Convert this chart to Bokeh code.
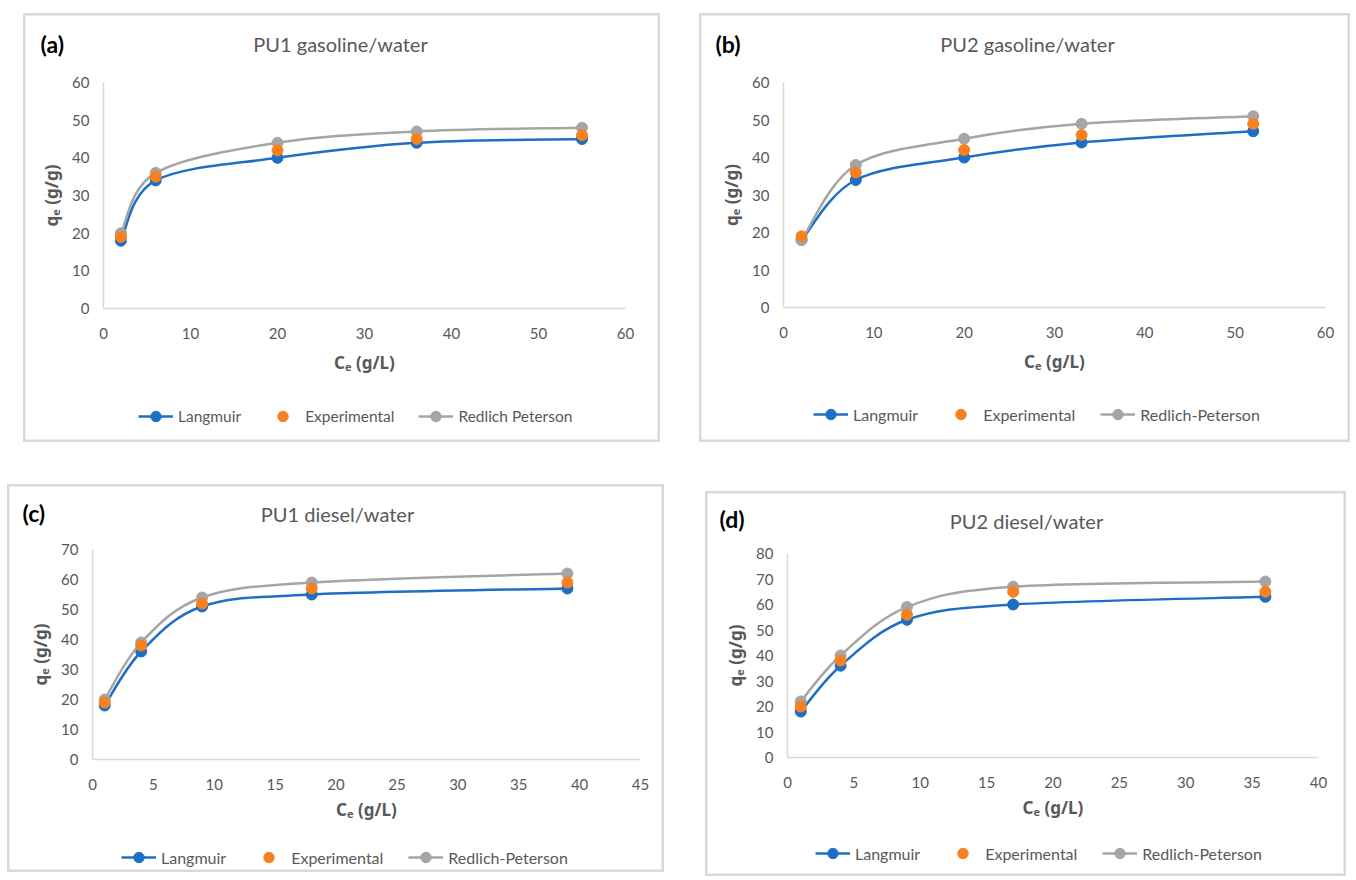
from bokeh.plotting import figure
from bokeh.models import (Range1d, FixedTicker, Label, Legend, LegendItem, Spacer,
                          ColumnDataSource)
from bokeh.layouts import row, column
from bokeh.embed import file_html
from bokeh.resources import INLINE

# ---------------- data ----------------
# (a) PU1 gasoline/water
a_ce = [2, 6, 20, 36, 55]
a_langmuir = [18, 34, 40, 44, 45]
a_experimental = [19, 35, 42, 45, 46]
a_redlich = [20, 36, 44, 47, 48]

# (b) PU2 gasoline/water
b_ce = [2, 8, 20, 33, 52]
b_langmuir = [18, 34, 40, 44, 47]
b_experimental = [19, 36, 42, 46, 49]
b_redlich = [18, 38, 45, 49, 51]

# (c) PU1 diesel/water
c_ce = [1, 4, 9, 18, 39]
c_langmuir = [18, 36, 51, 55, 57]
c_experimental = [19, 38, 52, 57, 59]
c_redlich = [20, 39, 54, 59, 62]

# (d) PU2 diesel/water
d_ce = [1, 4, 9, 17, 36]
d_langmuir = [18, 36, 54, 60, 63]
d_experimental = [20, 38, 56, 65, 65]
d_redlich = [22, 40, 59, 67, 69]

titles = ["PU1 gasoline/water", "PU2 gasoline/water", "PU1 diesel/water", "PU2 diesel/water"]
tags = ["(a)", "(b)", "(c)", "(d)"]
series_names = ["Langmuir", "Experimental", "Redlich-Peterson"]
series_names_a = ["Langmuir", "Experimental", "Redlich Peterson"]
x_label = "C\u2091 (g/L)"
y_label = "q\u2091 (g/g)"

BLUE = "#1E6FC4"
ORANGE = "#F7801F"
GRAY = "#A5A5A5"
TXT = "#595959"
FONT = "Lato"


def bezier_cds(x, y):
    """Smooth (Excel-like) curve: Bezier control points computed from the data points."""
    n = len(x)
    d = dict(x0=[], y0=[], x1=[], y1=[], cx0=[], cy0=[], cx1=[], cy1=[])
    for i in range(n - 1):
        im = max(i - 1, 0)
        ip = min(i + 2, n - 1)
        d["x0"].append(x[i]); d["y0"].append(y[i])
        d["x1"].append(x[i + 1]); d["y1"].append(y[i + 1])
        d["cx0"].append(x[i] + (x[i + 1] - x[im]) / 6.0)
        d["cy0"].append(y[i] + (y[i + 1] - y[im]) / 6.0)
        d["cx1"].append(x[i + 1] - (x[ip] - x[i]) / 6.0)
        d["cy1"].append(y[i + 1] - (y[ip] - y[i]) / 6.0)
    return ColumnDataSource(d)


def make_panel(cfg):
    w, h = cfg["w"], cfg["h"]
    L, R, T, B = cfg["box"]          # plot-area edges in the panel's pixels (from top-left)
    xmax, ymax = cfg["xmax"], cfg["ymax"]
    kx = (R - L) / xmax
    ky = (B - T) / ymax
    xr = Range1d(-L / kx, xmax + (w - R) / kx)
    yr = Range1d(-(h - B) / ky, ymax + T / ky)
    p = figure(width=w, height=h, output_backend="svg", toolbar_location=None,
               x_range=xr, y_range=yr,
               min_border_left=0, min_border_right=0, min_border_top=0, min_border_bottom=0,
               background_fill_color="white", border_fill_color="white",
               outline_line_color="#D9D9D9", outline_line_width=4)
    p.grid.visible = False
    p.xaxis.fixed_location = 0
    p.yaxis.fixed_location = 0
    p.xaxis.bounds = (0, xmax)
    p.yaxis.bounds = (0, ymax)
    p.xaxis.ticker = FixedTicker(ticks=list(range(0, xmax + 1, cfg["xstep"])))
    p.yaxis.ticker = FixedTicker(ticks=list(range(0, ymax + 1, 10)))
    for ax in (p.xaxis[0], p.yaxis[0]):
        ax.axis_line_color = "#D9D9D9"
        ax.axis_line_width = 1.5
        ax.major_tick_line_color = None
        ax.minor_tick_line_color = None
        ax.major_tick_out = 0
        ax.major_tick_in = 0
        ax.minor_tick_out = 0
        ax.major_label_text_font = FONT
        ax.major_label_text_font_size = "15px"
        ax.major_label_text_color = TXT
        ax.axis_label_text_font = "Noto Sans"
        ax.axis_label_text_font_size = "17px"
        ax.axis_label_text_font_style = "bold"
        ax.axis_label_text_color = TXT
    p.xaxis.axis_label = x_label
    p.yaxis.axis_label = y_label
    p.xaxis.major_label_standoff = 19
    p.xaxis.axis_label_standoff = cfg["xlab_gap"]
    p.yaxis.major_label_standoff = 14
    p.yaxis.axis_label_standoff = 6

    x = cfg["x"]
    # Langmuir
    bl = p.bezier(x0="x0", y0="y0", x1="x1", y1="y1", cx0="cx0", cy0="cy0", cx1="cx1", cy1="cy1",
                  source=bezier_cds(x, cfg["lang"]), line_color=BLUE, line_width=2.5)
    sl = p.scatter(x, cfg["lang"], size=11, fill_color=BLUE, line_color=BLUE)
    # Redlich-Peterson
    br = p.bezier(x0="x0", y0="y0", x1="x1", y1="y1", cx0="cx0", cy0="cy0", cx1="cx1", cy1="cy1",
                  source=bezier_cds(x, cfg["rp"]), line_color=GRAY, line_width=2.5)
    sr = p.scatter(x, cfg["rp"], size=11, fill_color=GRAY, line_color=GRAY)
    # Experimental
    se = p.scatter(x, cfg["exp"], size=11, fill_color=ORANGE, line_color=ORANGE)

    names = cfg["names"]
    legend = Legend(items=[LegendItem(label=names[0], renderers=[bl, sl]),
                           LegendItem(label=names[1], renderers=[se]),
                           LegendItem(label=names[2], renderers=[br, sr])],
                    orientation="horizontal", location=cfg["leg"],
                    border_line_color=None, background_fill_alpha=0,
                    label_text_font=FONT, label_text_font_size=cfg["leg_fs"],
                    label_text_color=TXT, glyph_width=35, glyph_height=26,
                    label_standoff=5, spacing=cfg["leg_sp"], padding=0, margin=0)
    p.add_layout(legend, "center")

    tx, ty = cfg["title_pos"]
    p.add_layout(Label(x=tx, y=ty, x_units="screen", y_units="screen", text=cfg["title"],
                       text_font=FONT, text_font_size="20px", text_color=TXT,
                       text_align="center", text_baseline="middle"))
    gx, gy = cfg["tag_pos"]
    p.add_layout(Label(x=gx, y=gy, x_units="screen", y_units="screen", text=cfg["tag"],
                       text_font=FONT, text_font_size="23px", text_font_style="bold",
                       text_color="black", text_align="left", text_baseline="middle"))
    return p


cfgs = [
    dict(w=637, h=429, box=(80, 602, 69, 295), xmax=60, xstep=10, ymax=60, xlab_gap=9,
         x=a_ce, lang=a_langmuir, exp=a_experimental, rp=a_redlich, names=series_names_a,
         title=titles[0], tag=tags[0], title_pos=(317, 399), tag_pos=(17, 399),
         leg=(115, 13), leg_fs="15.5px", leg_sp=24),
    dict(w=651, h=429, box=(84, 626, 69, 294), xmax=60, xstep=10, ymax=60, xlab_gap=9,
         x=b_ce, lang=b_langmuir, exp=b_experimental, rp=b_redlich, names=series_names,
         title=titles[1], tag=tags[1], title_pos=(328, 399), tag_pos=(16, 399),
         leg=(114, 15), leg_fs="16px", leg_sp=25),
    dict(w=657, h=388, box=(85, 633, 65, 275), xmax=45, xstep=5, ymax=70, xlab_gap=5,
         x=c_ce, lang=c_langmuir, exp=c_experimental, rp=c_redlich, names=series_names,
         title=titles[2], tag=tags[2], title_pos=(330, 359), tag_pos=(15, 360),
         leg=(114, 2), leg_fs="16px", leg_sp=25),
    dict(w=641, h=385, box=(82, 613, 62, 266), xmax=40, xstep=5, ymax=80, xlab_gap=5,
         x=d_ce, lang=d_langmuir, exp=d_experimental, rp=d_redlich, names=series_names,
         title=titles[3], tag=tags[3], title_pos=(321, 356), tag_pos=(14, 358),
         leg=(110, 10), leg_fs="16px", leg_sp=25),
]

pa, pb, pc, pd = [make_panel(c) for c in cfgs]

layout = column(
    Spacer(height=13),
    row(Spacer(width=23), pa, Spacer(width=39), pb),
    Spacer(height=42),
    row(Spacer(width=7), pc, Spacer(width=41), column(Spacer(height=7), pd)),
)

open("out.html", "w").write(file_html(layout, INLINE))
